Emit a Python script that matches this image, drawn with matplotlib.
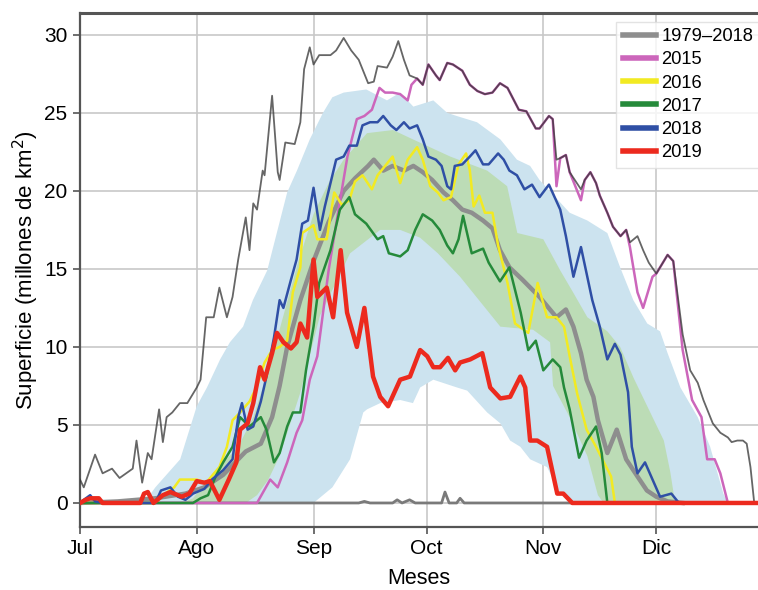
import matplotlib
matplotlib.use('Agg')
import matplotlib.pyplot as plt
import numpy as np

plt.rcParams['font.family'] = ['Liberation Sans', 'DejaVu Sans']

# days counted from 1 July
month_days = [0, 31, 62, 92, 123, 153]
month_labels = ['Jul', 'Ago', 'Sep', 'Oct', 'Nov', 'Dic']

# 1979-2018 maximum
max_days = [0, 1, 4, 6, 8.5, 10.5, 14, 15, 16.5, 18, 19, 21, 22, 23, 24.5, 26.5, 28.5, 31, 32,
            33.5, 35.5, 37, 39, 40.5, 42, 44, 45, 46, 47, 48.5, 49, 51, 52.5, 53, 54.5, 57, 58.5,
            59.5, 61, 62, 63.5, 66.5, 68, 70, 72, 74, 76.5, 78, 79, 81.5, 83, 84.5, 86, 87.5, 89.5,
            91, 92.5, 94.5, 95.5, 97.5, 99, 101.5, 103.5, 105.5, 107.5, 109.5, 111.5, 113.5, 116.5,
            118.5, 121, 122, 124.5, 125.5, 126.5, 127.5, 129, 130, 133, 134, 135.5, 137, 138, 140,
            141.5, 143.5, 145, 146, 148, 149.5, 151, 153, 156, 157.5, 160, 162, 164, 165.5, 168,
            170, 172, 173, 174.5, 176, 177, 178, 179]
max_area = [1.5, 1.0, 3.1, 1.9, 2.2, 1.6, 2.2, 4.0, 1.3, 3.2, 2.8, 6.0, 3.9, 5.5, 5.8, 6.4, 6.4, 7.4, 7.9,
            11.9, 11.9, 13.8, 11.9, 13.2, 15.6, 18.3, 16.2, 19.2, 18.8, 21.3, 21.0, 26.1, 21.2, 20.7, 23.1, 23.0, 24.4,
            27.8, 29.2, 28.1, 28.7, 28.7, 29.0, 29.8, 29.0, 28.4, 26.9, 27.0, 28.0, 27.9, 28.6, 29.6, 28.4, 27.4, 27.2,
            26.8, 28.1, 27.4, 27.1, 28.2, 28.1, 27.7, 26.8, 26.4, 26.2, 26.3, 26.9, 26.6, 25.2,
            25.1, 24.0, 24.0, 24.8, 24.6, 22.0, 22.1, 22.3, 21.2, 20.1, 20.7, 21.2, 20.5, 19.7, 18.6,
            17.7, 17.1, 17.5, 16.7, 17.1, 16.2, 15.4, 14.7, 15.9, 15.5, 10.8, 8.5, 7.7, 6.6, 5.1,
            4.5, 4.2, 3.9, 4.0, 4.0, 3.8, 2.3, 0.0]

# 1979-2018 minimum
min_days = [0, 74, 75.5, 77, 83, 84.2, 85.5, 87.5, 89, 96, 96.9, 98, 100, 100.9, 102, 180]
min_area = [0, 0, 0.1, 0, 0, 0.2, 0, 0.2, 0, 0, 0.7, 0, 0, 0.3, 0, 0]

# 1979-2018 mean
mean_days = [0, 10, 20, 28, 33, 38, 42, 44, 48, 51, 53, 55, 58.5, 62, 66, 70, 73, 76.5, 78, 80.5, 83,
             86, 88.5, 91, 93.5, 96.5, 99, 101.5, 104, 107, 109.5, 111.5, 114, 117.5, 122, 126.5, 129,
             131, 133, 134.5, 136.3, 137.5, 140, 142.5, 145, 148, 150.5, 153, 156, 160]
mean_area = [0, 0.1, 0.3, 0.6, 1.0, 1.8, 2.8, 3.3, 3.8, 5.5, 7.5, 10.0, 13.0, 15.5, 18.0, 20.0, 20.8, 21.6, 22.0, 21.3, 21.6,
             21.3, 21.6, 21.2, 20.7, 19.9, 19.4, 18.8, 18.6, 18.1, 17.6, 16.2, 15.1, 14.3, 13.2, 11.9, 12.4,
             11.3, 9.6, 7.9, 6.8, 5.3, 3.2, 4.7, 2.8, 1.7, 0.8, 0.4, 0.1, 0]

# percentile bands (outer light blue, inner green)
outer_up_days = [17, 20, 26.6, 31, 33.7, 37.2, 39.8, 43.3, 45.9, 49.7, 55, 57.6, 61, 64.5, 67, 70, 76, 81.5,
                 85, 88.5, 93.8, 97.5, 100, 105.4, 111.6, 116, 119.5, 122, 130, 134.7, 140, 143.4, 146.9,
                 150.6, 154, 156, 159.4, 164, 167.3, 170.8, 172]
outer_up_area = [0, 1.0, 2.8, 6.2, 7.4, 9.2, 10.3, 11.3, 13.0, 14.9, 19.9, 21.3, 23.3, 25.0, 26.0, 26.3, 26.5, 25.8,
                 26.3, 25.4, 25.8, 25.0, 24.8, 24.4, 23.3, 22.0, 21.6, 20.7, 18.6, 18.1, 17.3, 15.1, 13.0,
                 11.5, 11.0, 9.6, 7.4, 5.5, 3.6, 0.6, 0]
outer_lo_days = [17, 62, 67, 71.7, 75.2, 76.2, 79.7, 85, 88.4, 90.3, 93.8, 100.1, 102.8, 108.1, 111.6, 114.2,
                 116.9, 119.5, 124, 127.5, 131, 172]
outer_lo_area = [0, 0, 1.0, 2.8, 5.8, 6.0, 6.4, 6.6, 6.4, 7.4, 7.9, 7.4, 7.2, 5.8, 5.1, 4.0,
                 3.6, 2.8, 2.3, 0.6, 0, 0]
inner_up_days = [27, 30, 35.3, 42, 46, 50, 54, 58, 62, 66, 70, 76.2, 83.1, 88.4, 98.3, 108.1, 113.4, 116.1,
                 123, 127.5, 130.9, 134.7, 140, 143.4, 147, 152, 155, 156.7, 158]
inner_up_area = [0, 0.3, 1.9, 3.6, 5.5, 8.5, 12.0, 15.5, 18.5, 20.5, 22.0, 23.7, 23.9, 23.3, 22.2, 21.3, 20.3, 17.3,
                 16.9, 14.9, 13.5, 11.9, 11.0, 10.0, 8.0, 5.5, 4.0, 2.0, 0]
inner_lo_days = [27, 44, 47, 50, 53, 58.4, 63.7, 71.7, 79.7, 85, 90.3, 95, 100.9, 111.6, 120.3, 124.8,
                 125.6, 130, 134.7, 137.5, 139, 158]
inner_lo_area = [0, 0, 0.5, 1.5, 3.0, 7.0, 12.0, 16.0, 17.5, 17.5, 17.0, 16.0, 14.5, 11.3, 11.1, 10.3,
                 7.5, 5.5, 3.0, 0.5, 0, 0]

y2015_days = [0, 47, 50.5, 52.5, 55, 57.5, 59, 61, 63, 66, 68.5, 71, 73.5, 75.5, 77.5, 79.5, 81, 83, 85, 87,
              88, 89.5, 91, 92.5, 94.5, 95.5, 97.5, 99, 101.5, 103.5, 105.5, 107.5, 109.5, 111.5, 113.5,
              116.5, 118.5, 121, 122, 124.5, 125.5, 126.5, 127.5, 129, 130, 133, 134, 135.5, 137, 138,
              140, 141.5, 143.5, 145, 146, 148, 149.5, 152, 153, 156, 157.5, 160, 162.5, 165, 166.5,
              168.5, 170, 172, 180]
y2015_area = [0, 0, 1.5, 1.0, 2.6, 4.5, 5.3, 7.9, 9.4, 14.9, 18.6, 22.2, 24.6, 24.8, 25.2, 26.6, 26.3, 26.3, 26.2, 25.8,
              26.8, 27.2, 26.8, 28.1, 27.4, 27.1, 28.2, 28.1, 27.7, 26.8, 26.4, 26.2, 26.3, 26.9, 26.6,
              25.2, 25.1, 24.0, 24.0, 24.8, 24.6, 20.3, 22.1, 22.3, 21.2, 19.4, 20.7, 21.2, 20.5, 19.7,
              18.6, 17.7, 17.1, 17.5, 16.4, 13.5, 12.5, 14.5, 14.7, 15.9, 15.5, 9.8, 6.6, 5.5, 2.8,
              2.8, 1.9, 0, 0]

y2016_days = [0, 20, 22, 25, 26.5, 31, 33.5, 37, 39, 40.5, 42.5, 45, 47, 49, 51, 53, 55, 56.5, 58.5, 59,
              62, 63, 65.5, 67.5, 69.5, 71.5, 73, 75, 77.5, 79, 81, 83, 85, 87, 89.5, 91, 93, 95, 96.5,
              98.5, 100.5, 102.5, 103.5, 104.5, 106, 107.5, 109.5, 111, 113.5, 115.5, 119, 121.5, 124,
              126.5, 128.5, 130, 132, 134.5, 137, 141, 142, 180]
y2016_area = [0, 0, 0.5, 1.0, 1.5, 1.5, 1.3, 2.3, 3.6, 5.3, 5.8, 6.5, 7.5, 9.0, 9.8, 10.0, 10.4, 13.5, 15.1, 17.3,
              17.8, 16.9, 16.9, 19.9, 19.1, 19.4, 20.6, 21.0, 20.1, 21.0, 21.6, 22.2, 20.5, 22.0, 22.8, 22.0, 20.3, 19.9, 19.4,
              19.6, 21.7, 22.4, 21.3, 19.0, 19.7, 18.6, 18.6, 16.5, 14.1, 11.5, 10.9, 14.1, 11.9,
              11.9, 11.3, 9.4, 7.0, 4.7, 3.6, 1.7, 0, 0]

y2017_days = [0, 30, 32, 34, 36, 38, 40.5, 42.5, 45, 48, 49.5, 51.5, 53, 55, 56.5, 58.5, 60, 62, 63.5, 66.5,
              69, 71.5, 73, 76, 79, 80.5, 82, 85, 87, 89, 91, 93.5, 95.5, 97.5, 99, 100.5, 101.7, 104,
              107, 108.5, 111.5, 114, 117, 119, 121, 123, 125.5, 127.5, 128.5, 130, 132.5, 134.5, 137,
              138.5, 140, 180]
y2017_area = [0, 0, 0.3, 0.5, 1.7, 2.6, 3.6, 5.5, 4.9, 5.5, 4.7, 2.6, 3.2, 4.9, 5.8, 5.8, 8.5, 11.3, 14.1, 16.2,
              18.8, 19.6, 18.5, 17.9, 16.9, 17.1, 16.0, 15.8, 16.2, 17.5, 18.5, 18.1, 17.5, 16.5, 16.0, 16.9, 18.4, 16.0,
              16.3, 15.4, 14.2, 15.1, 12.2, 9.8, 10.4, 8.5, 9.2, 8.7, 7.4, 6.0, 2.9, 4.0, 4.9,
              3.2, 0, 0]

y2018_days = [0, 1, 2.7, 4, 6, 20, 21.5, 24, 26, 28, 30, 33, 35, 38, 40.5, 42, 43, 44.5, 46, 48, 49.5, 51.5,
              53, 54, 56, 57.5, 59, 60.5, 62, 63.7, 65, 66.5, 68, 70, 71.5, 73.5, 75, 77, 79, 80.5, 82.5,
              84, 86, 87.5, 89.5, 91, 92.5, 94.5, 96, 97.5, 98.5, 99.5, 101.5, 103.5, 105, 107, 108.5,
              111, 112.5, 114, 116, 118, 120, 122, 124.5, 127.5, 129, 131, 133, 134.5, 136, 138, 140,
              142, 143.5, 145.5, 146.5, 148, 150, 152, 154, 157, 159, 180]
y2018_area = [0, 0.2, 0.5, 0.1, 0, 0, 0.8, 1.0, 0.4, 0.2, 0.6, 0.9, 1.5, 2.1, 2.8, 5.5, 6.4, 4.7, 4.9, 6.5, 8.1, 10.6,
              13.0, 12.5, 14.3, 15.6, 17.9, 18.1, 20.2, 17.5, 19.0, 20.5, 22.0, 22.2, 22.9, 22.9, 24.2, 24.4, 24.4, 24.8, 24.2,
              23.9, 24.4, 24.0, 24.2, 23.3, 22.2, 22.0, 21.6, 20.3, 20.1, 21.6, 21.7, 22.2, 22.6, 21.7, 21.7,
              22.4, 22.0, 21.3, 21.0, 20.1, 20.4, 19.6, 20.4, 18.8, 17.1, 14.5, 16.4, 14.7, 13.0, 11.3, 9.2,
              10.2, 9.5, 7.1, 3.6, 1.9, 2.6, 1.5, 0.4, 0.6, 0, 0]

y2019_days = [0, 1.5, 2.7, 5, 6, 16, 17, 18, 19.5, 22, 24, 27, 29, 31, 33, 34.5, 37, 39.5, 41.5, 42.5, 44.5,
              46, 47.8, 49, 51, 52.3, 54, 56, 57.5, 58.5, 60.3, 62, 63, 65.5, 67.2, 69.2, 70.9, 73.5, 75.5,
              77.8, 79.7, 81.8, 85, 87.6, 90.3, 92.2, 93.8, 95.6, 97.7, 99.6, 100.9, 103.6, 106.8, 108.9,
              111.6, 114.2, 116.9, 118.2, 119.5, 121.4, 124, 126.7, 128.3, 130.7, 180]
y2019_area = [0, 0.2, 0.3, 0.3, 0, 0, 0.6, 0.7, 0, 0.5, 0.7, 0.4, 0.6, 1.4, 1.3, 1.4, 0.2, 1.5, 2.6, 4.7, 5.1,
              6.4, 8.7, 7.9, 9.6, 10.9, 10.3, 9.9, 10.3, 11.5, 10.6, 15.6, 13.2, 13.8, 11.9, 16.2, 12.2, 10.0, 12.5,
              8.1, 6.8, 6.2, 7.9, 8.1, 9.8, 9.4, 8.7, 8.7, 9.3, 8.5, 9.0, 9.2, 9.6, 7.4,
              6.7, 6.8, 8.1, 7.4, 4.0, 4.0, 3.6, 0.6, 0.6, 0, 0]

fig = plt.figure(figsize=(7.58, 5.90), dpi=100)
ax = fig.add_axes([80 / 758, 63 / 590, 678 / 758, 514 / 590])

ax.fill(np.r_[outer_up_days, outer_lo_days[::-1]], np.r_[outer_up_area, outer_lo_area[::-1]],
        color='#cce3ef', lw=0, zorder=1)
ax.fill(np.r_[inner_up_days, inner_lo_days[::-1]], np.r_[inner_up_area, inner_lo_area[::-1]],
        color='#bcdcb6', lw=0, zorder=1.5)

ax.plot(min_days, min_area, color='#7a7a7a', lw=2, zorder=3)
ax.plot(mean_days, mean_area, color='#8e8e8e', lw=3.2, zorder=3)
ax.plot(y2015_days, y2015_area, color='#cc66bb', lw=1.8, zorder=4)
ax.plot(max_days, max_area, color='#333333', lw=1.3, alpha=0.75, zorder=4.5)
ax.plot(y2016_days, y2016_area, color='#f2ea22', lw=1.8, zorder=5)
ax.plot(y2017_days, y2017_area, color='#258a3a', lw=1.8, zorder=5)
ax.plot(y2018_days, y2018_area, color='#2f4fa5', lw=1.8, zorder=5)
ax.plot(y2019_days, y2019_area, color='#ec2a1e', lw=3.2, zorder=6)

ax.set_xlim(0, 180)
ax.set_ylim(-1.54, 31.4)
ax.set_xticks(month_days)
ax.set_xticklabels(month_labels)
ax.set_yticks([0, 5, 10, 15, 20, 25, 30])
ax.grid(True, color='#c8c8c8', lw=1.2)
ax.set_axisbelow(True)
ax.tick_params(labelsize=15, length=5, width=1.2, color='#555555', pad=4)
for side in ['left', 'bottom', 'top']:
    ax.spines[side].set_color('#555555')
    ax.spines[side].set_linewidth(1.6)
ax.spines['top'].set_linewidth(2.2)
ax.spines['right'].set_visible(False)

ax.set_xlabel('Meses', fontsize=15.5, labelpad=7)
ax.set_ylabel('Superficie (millones de km$^2$)', fontsize=16, labelpad=2)

legend_items = [('1979–2018', '#8e8e8e'), ('2015', '#cc66bb'), ('2016', '#f2ea22'),
                ('2017', '#258a3a'), ('2018', '#2f4fa5'), ('2019', '#ec2a1e')]
handles = [plt.Line2D([], [], color=c, lw=4) for _, c in legend_items]
leg = ax.legend(handles, [n for n, _ in legend_items], loc='upper left',
                bbox_to_anchor=(0.791, 0.983), fontsize=13.2, frameon=True, fancybox=False,
                handlelength=1.8, labelspacing=0.34, borderpad=0.35, handletextpad=0.3,
                borderaxespad=0)
leg.get_frame().set_edgecolor('#dddddd')
leg.get_frame().set_linewidth(1)

fig.savefig('out.png', dpi=100)
